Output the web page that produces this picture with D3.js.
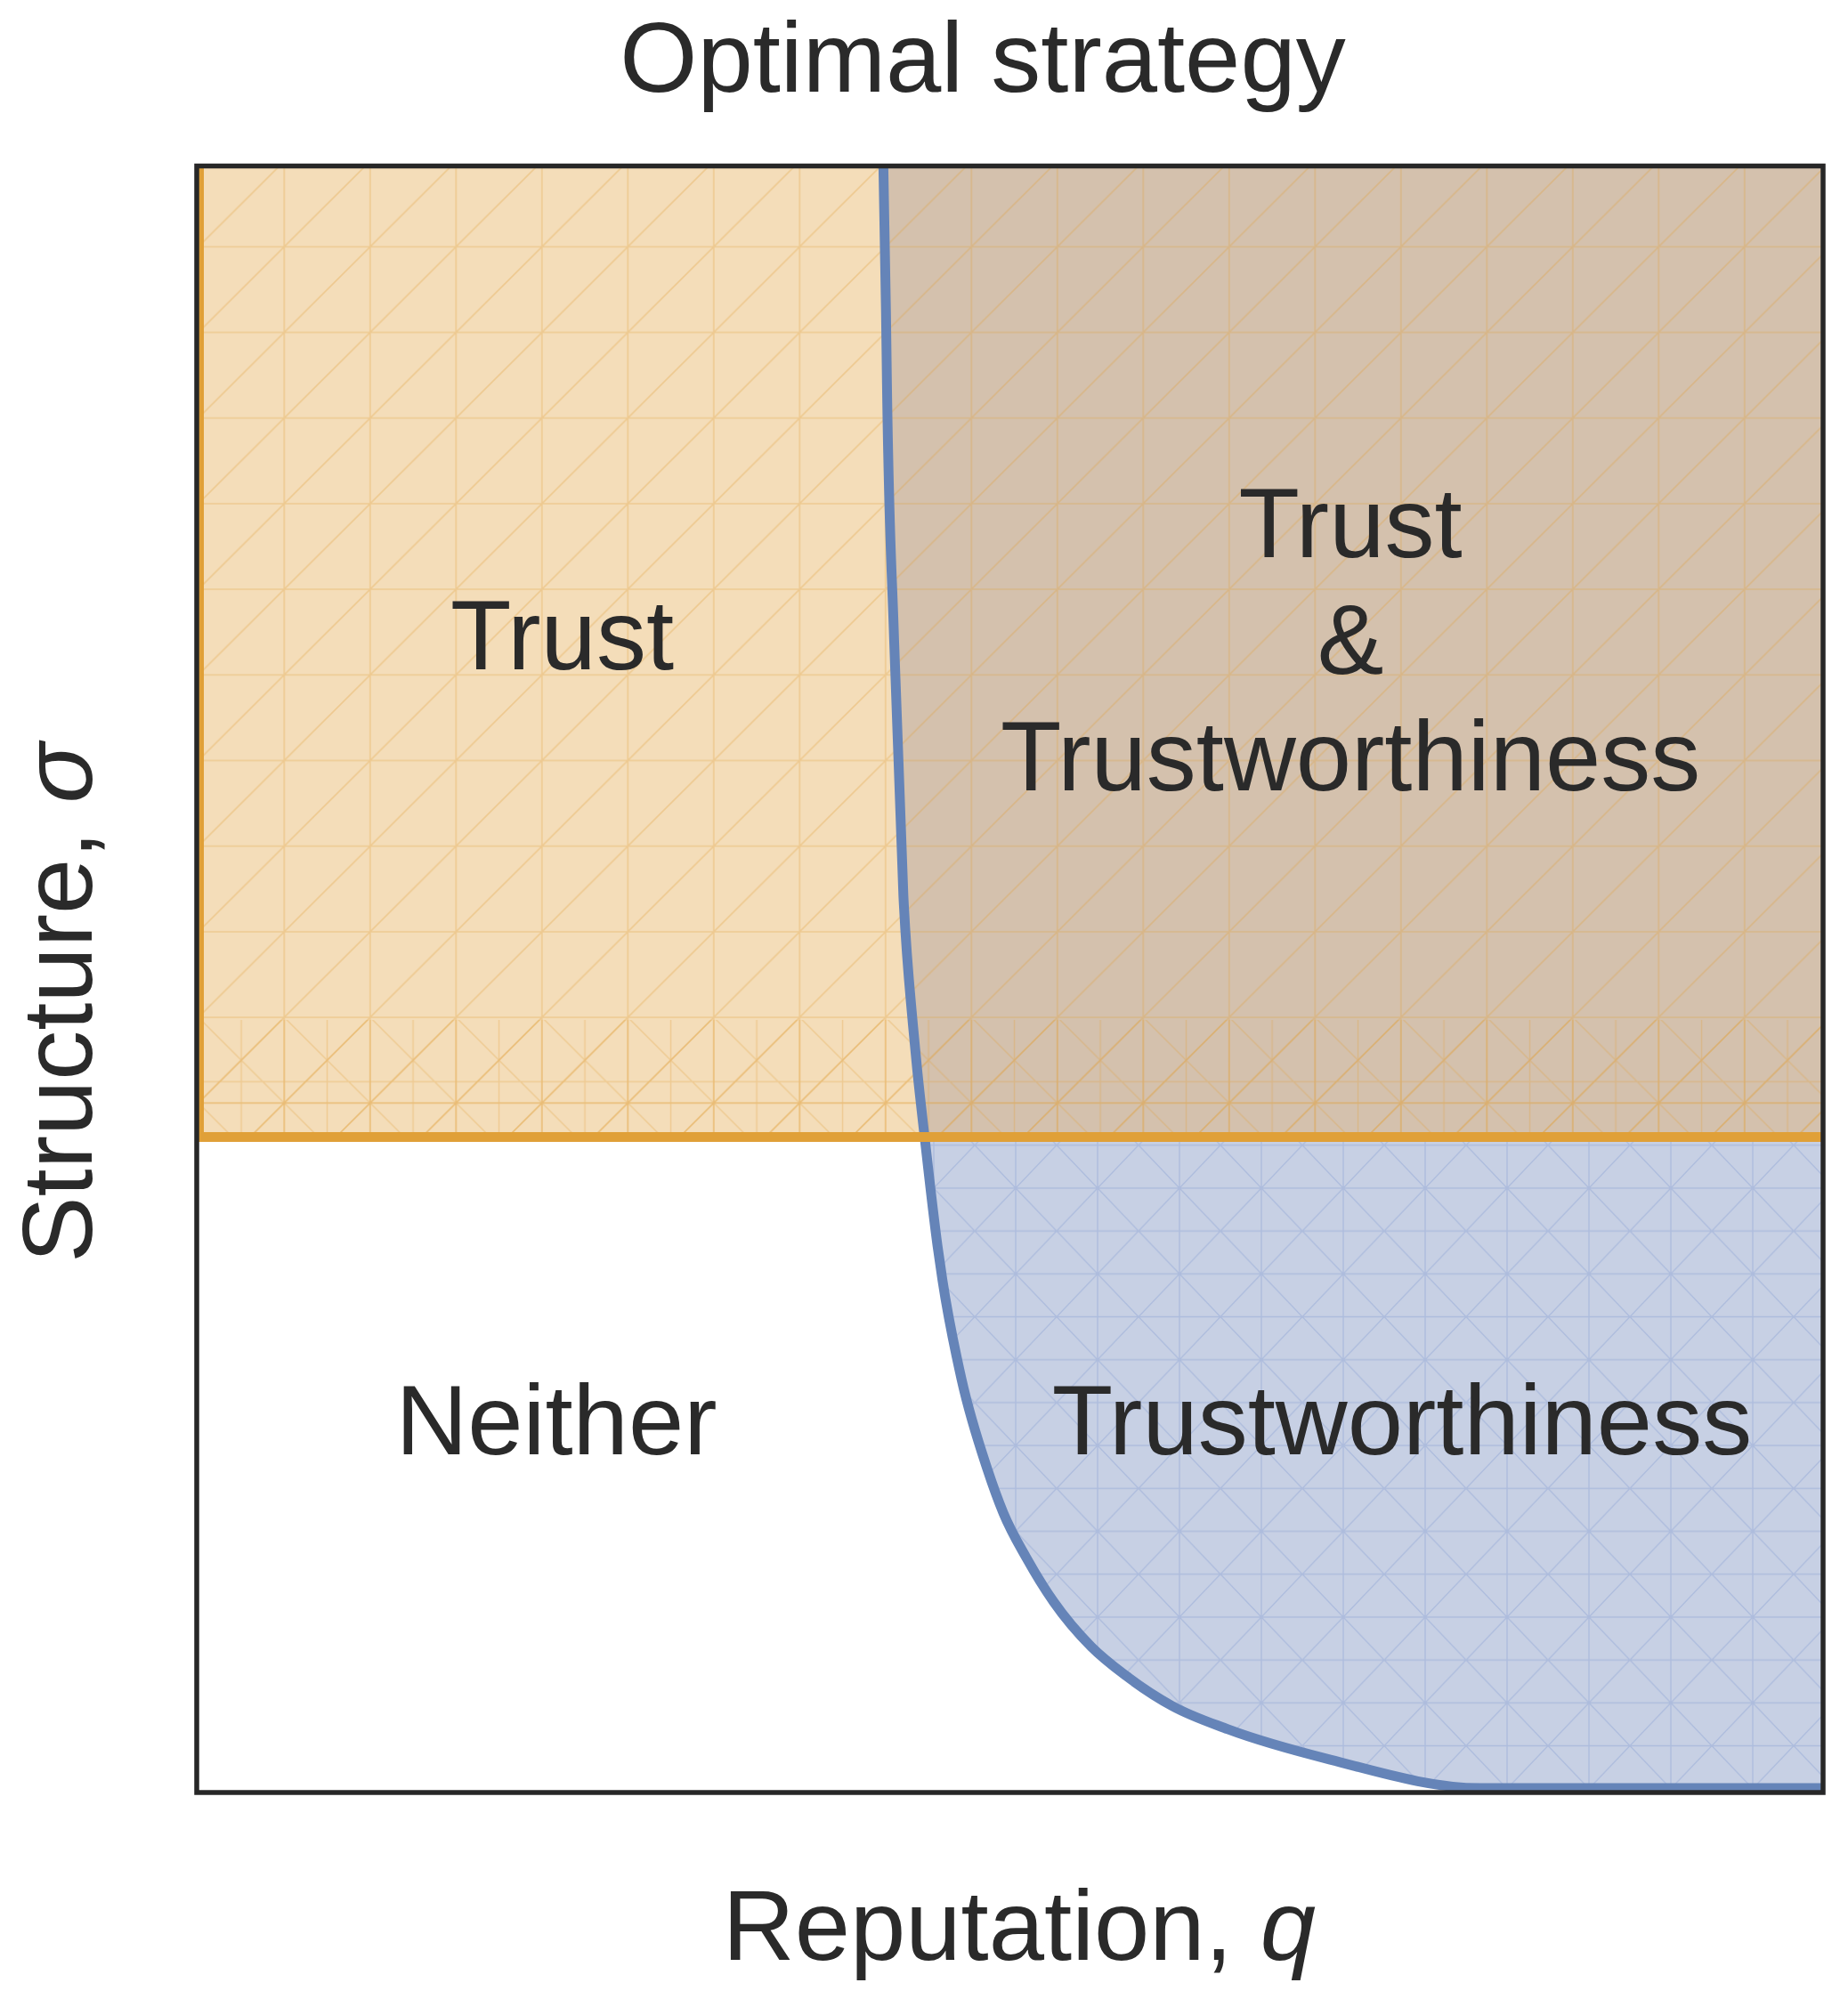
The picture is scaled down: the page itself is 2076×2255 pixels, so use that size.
<!DOCTYPE html>
<html>
<head>
<meta charset="utf-8">
<script src="https://cdn.jsdelivr.net/npm/d3@7"></script>
<style>
  body { margin: 0; background: #ffffff; }
  text { font-family: "Liberation Sans", Arial, sans-serif; fill: #2a2a2a; }
</style>
</head>
<body>
<svg id="chart" width="2076" height="2255"></svg>
<script>
// ---------------- data ----------------
const titleText = "Optimal strategy";
const xLabelParts = ["Reputation, ", "q"];
const yLabelParts = ["Structure, ", "σ"];

// Trustworthiness boundary curve: reputation q  vs  structure sigma
const curveQ     = [0.4222, 0.4238, 0.4244, 0.4288, 0.4345, 0.4403, 0.4429, 0.4476, 0.4555, 0.4585, 0.4703, 0.4860, 0.4960, 0.5100, 0.5270, 0.5500, 0.5715, 0.6000, 0.6340, 0.6970, 0.7893, 1.0000];
const curveSigma = [1.0000, 0.9105, 0.8662, 0.7086, 0.5516, 0.4728, 0.4454, 0.4027, 0.3360, 0.3152, 0.2539, 0.1992, 0.1718, 0.1445, 0.1171, 0.0897, 0.0717, 0.0531, 0.0389, 0.0202, 0.0027, 0.0027];

// Trust threshold in structure sigma (horizontal boundary)
const trustSigma = 0.403;

// Region labels (anchor in data coordinates, lines of text)
const labelTexts = [["Trust"], ["Trust", "&", "Trustworthiness"], ["Neither"], ["Trustworthiness"]];
const labelQ     = [0.2247, 0.7094, 0.2211, 0.7411];
const labelSigma = [0.6906, 0.6878, 0.2079, 0.2079];

// ---------------- layout / style ----------------
const plotL = 221, plotR = 2048, plotT = 186.5, plotB = 2014;
const colors = {
  orangeFill: "#F4DDB9", brownFill: "#D4C1AD", blueFill: "#C7D0E4",
  orangeLine: "#E0A038", blueLine: "#6584B8", frame: "#272727"
};

const svg = d3.select("#chart");
const x = d3.scaleLinear().domain([0, 1]).range([plotL, plotR]);
const y = d3.scaleLinear().domain([0, 1]).range([plotB, plotT]);

const defs = svg.append("defs");
defs.append("clipPath").attr("id", "plotClip").append("rect")
  .attr("x", plotL).attr("y", plotT).attr("width", plotR - plotL).attr("height", plotB - plotT);
defs.append("clipPath").attr("id", "topClip").append("rect")
  .attr("x", plotL).attr("y", plotT).attr("width", plotR - plotL).attr("height", y(trustSigma) - plotT);
defs.append("clipPath").attr("id", "botClip").append("rect")
  .attr("x", plotL).attr("y", y(trustSigma)).attr("width", plotR - plotL).attr("height", plotB - y(trustSigma));

// mesh patterns (imitating the triangulation mesh of the original)
function meshPattern(id, px, py, w, h, d, stroke, sw) {
  const p = defs.append("pattern").attr("id", id).attr("patternUnits", "userSpaceOnUse")
    .attr("x", px).attr("y", py).attr("width", w).attr("height", h);
  p.append("path").attr("d", d).attr("fill", "none").attr("stroke", stroke).attr("stroke-width", sw);
}
const ow = 96.5, oh = 96.2;
meshPattern("orangeMesh", 319.3, 277.3, ow, oh,
  `M0,0V${oh}M${ow},0V${oh}M0,0H${ow}M0,${oh}H${ow}M0,${oh}L${ow},0`,
  "rgba(224,160,56,0.32)", 1.6);
meshPattern("bandMesh", 319.3, 1239.3 - oh, ow, oh,
  `M0,0V${oh}M${ow/2},0V${oh}M${ow},0V${oh}M0,0H${ow}M0,${oh}H${ow}M0,${oh}L${ow},0M0,0L${ow},${oh}M0,${oh*0.75}H${ow}`,
  "rgba(224,160,56,0.30)", 1.5);
const bw = 92, bh = 96.4;
meshPattern("blueMesh", 1141, 1913.3, bw, bh,
  `M0,0V${bh}M${bw},0V${bh}M0,0H${bw}M0,${bh/2}H${bw}M0,${bh}H${bw}M0,${bh}L${bw},0M0,0L${bw},${bh}`,
  "rgba(101,132,200,0.26)", 1.4);

const pts = curveQ.map((q, i) => ({ q: q, s: curveSigma[i] }));
const lineGen = d3.line().x(d => x(d.q)).y(d => y(d.s)).curve(d3.curveMonotoneX);
const curvePath = lineGen(pts);
const regionPath = curvePath +
  `L${x(1.02)},${y(curveSigma[curveSigma.length - 1])}L${x(1.02)},${y(1.02)}L${x(curveQ[0])},${y(1.02)}Z`;

const plot = svg.append("g").attr("clip-path", "url(#plotClip)");

// Trust region (sigma above threshold)
plot.append("rect").attr("x", x(0)).attr("y", y(1)).attr("width", x(1) - x(0)).attr("height", y(trustSigma) - y(1))
  .attr("fill", colors.orangeFill);

// Trustworthiness region: overlap part (brown) and lower part (blue)
plot.append("g").attr("clip-path", "url(#topClip)").append("path").attr("d", regionPath).attr("fill", colors.brownFill);
plot.append("g").attr("clip-path", "url(#botClip)").append("path").attr("d", regionPath).attr("fill", colors.blueFill);

// meshes
plot.append("rect").attr("x", x(0)).attr("y", y(1)).attr("width", x(1) - x(0)).attr("height", y(trustSigma) - y(1))
  .attr("fill", "url(#orangeMesh)");
plot.append("rect").attr("x", x(0)).attr("y", y(0.475)).attr("width", x(1) - x(0)).attr("height", y(trustSigma) - y(0.475))
  .attr("fill", "url(#bandMesh)");
plot.append("g").attr("clip-path", "url(#botClip)").append("path").attr("d", regionPath).attr("fill", "url(#blueMesh)");

// boundary curve
plot.append("path").attr("d", curvePath).attr("fill", "none")
  .attr("stroke", colors.blueLine).attr("stroke-width", 11).attr("stroke-linejoin", "round");

// trust threshold line and left edge of trust region
plot.append("line").attr("x1", x(0)).attr("x2", x(1)).attr("y1", y(trustSigma)).attr("y2", y(trustSigma))
  .attr("stroke", colors.orangeLine).attr("stroke-width", 11);
plot.append("line").attr("x1", x(0) + 3).attr("x2", x(0) + 3).attr("y1", y(1)).attr("y2", y(trustSigma))
  .attr("stroke", colors.orangeLine).attr("stroke-width", 10);

// frame
svg.append("rect").attr("x", plotL).attr("y", plotT).attr("width", plotR - plotL).attr("height", plotB - plotT)
  .attr("fill", "none").attr("stroke", colors.frame).attr("stroke-width", 5.5);

// region labels
const lineStep = 131;
labelTexts.forEach((lines, i) => {
  const cx = x(labelQ[i]);
  const baseY = y(labelSigma[i]);
  const mid = (lines.length - 1) / 2;
  lines.forEach((t, j) => {
    svg.append("text").attr("x", cx).attr("y", baseY + (j - mid) * lineStep)
      .attr("text-anchor", "middle").attr("font-size", 112).text(t);
  });
});

// title
svg.append("text").attr("x", 1104).attr("y", 103).attr("text-anchor", "middle")
  .attr("font-size", 112).text(titleText);

// x label
const xl = svg.append("text").attr("x", 1145).attr("y", 2202).attr("text-anchor", "middle").attr("font-size", 112);
xl.append("tspan").text(xLabelParts[0]);
xl.append("tspan").attr("font-style", "italic").text(xLabelParts[1]);

// y label
const yl = svg.append("text").attr("transform", "translate(103,1127) rotate(-90)")
  .attr("text-anchor", "middle").attr("font-size", 112);
yl.append("tspan").text(yLabelParts[0]);
yl.append("tspan").attr("font-style", "italic").text(yLabelParts[1]);
</script>
</body>
</html>
